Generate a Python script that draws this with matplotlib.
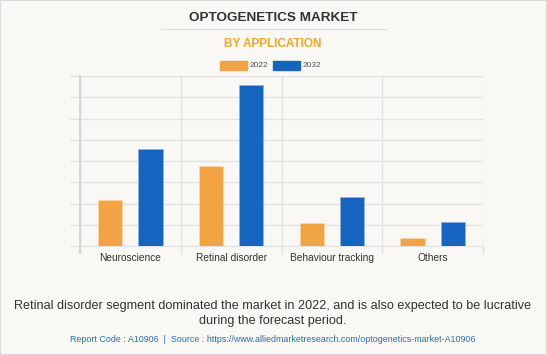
import numpy as np
import matplotlib.pyplot as plt
from matplotlib.patches import Rectangle

plt.rcParams["font.family"] = ["Liberation Sans", "DejaVu Sans"]

# Data (in gridline units)
categories = ["Neuroscience", "Retinal disorder", "Behaviour tracking", "Others"]
series_names = ["2022", "2032"]
values_2022 = [2.19, 3.75, 1.08, 0.39]
values_2032 = [4.56, 7.60, 2.32, 1.14]

ORANGE = "#f2a444"
BLUE = "#1565c0"
BG = "#f9f8f4"
GRID = "#e2e2e0"

fig = plt.figure(figsize=(5.47, 3.55), dpi=100)
fig.patch.set_facecolor(BG)
fig.patches.append(Rectangle((0, 0), 1, 1, transform=fig.transFigure,
                             fill=False, edgecolor="#d8d8d8", linewidth=1.5))

ax = fig.add_axes([80 / 547, 1 - 246.3 / 355, 403 / 547, 170.3 / 355])
ax.set_facecolor(BG)

x = np.arange(len(categories))
w = 0.24
ax.bar(x - 0.2, values_2022, w, color=ORANGE, edgecolor="#f8d7a8", linewidth=0.6, zorder=3)
ax.bar(x + 0.2, values_2032, w, color=BLUE, edgecolor="#8fb3e3", linewidth=0.6, zorder=3)

ax.set_xlim(-0.5, 3.5)
ax.set_ylim(0, 8)
ax.set_yticks(np.arange(0, 9, 1))
ax.set_yticklabels([])
ax.tick_params(axis="y", length=7, color=GRID, width=1)
ax.grid(axis="y", color=GRID, linewidth=1, zorder=0)

# category separators
ax.set_xticks(x)
ax.set_xticklabels(categories, fontsize=7.3, color="#333333")
ax.tick_params(axis="x", length=0, pad=5)
ax.set_xticks(np.arange(-0.5, 4, 1), minor=True)
ax.tick_params(axis="x", which="minor", length=6, color=GRID, width=1)
ax.grid(axis="x", which="minor", color=GRID, linewidth=1, zorder=0)

for side in ["top", "right"]:
    ax.spines[side].set_visible(False)
ax.spines["bottom"].set_color(GRID)
ax.spines["left"].set_color("#d0d0d0")
ax.spines["left"].set_linewidth(1.2)
ax.spines["left"].set_bounds(-0.3, 8)

# Titles
fig.text(273 / 547, 1 - 18 / 355, "OPTOGENETICS MARKET", ha="center", va="center",
         fontsize=9.7, fontweight="bold", color="#333333")
fig.add_artist(plt.Line2D([161 / 547, 386 / 547], [1 - 28.5 / 355] * 2,
                          color="#dddddd", linewidth=0.8, transform=fig.transFigure))
fig.text(273 / 547, 1 - 44 / 355, "BY APPLICATION", ha="center", va="center",
         fontsize=8.5, fontweight="bold", color="#f5a623")

# Legend
legend_items = [(220, ORANGE, series_names[0]), (273, BLUE, series_names[1])]
for lx, col, lab in legend_items:
    fig.patches.append(Rectangle((lx / 547, 1 - 70 / 355), 27 / 547, 9 / 355,
                                 transform=fig.transFigure, color=col))
    fig.text((lx + 30) / 547, 1 - 65.5 / 355, lab, ha="left", va="center",
             fontsize=6, color="#555555")

# Caption
fig.text(273 / 547, 1 - 306 / 355,
         "Retinal disorder segment dominated the market in 2022, and is also expected to be lucrative",
         ha="center", va="center", fontsize=9.1, color="#333333")
fig.text(273 / 547, 1 - 321 / 355, "during the forecast period.",
         ha="center", va="center", fontsize=9.1, color="#333333")
fig.text(273 / 547, 1 - 340 / 355,
         "Report Code : A10906  |  Source : https://www.alliedmarketresearch.com/optogenetics-market-A10906",
         ha="center", va="center", fontsize=6.4, color="#2a6db5")

fig.savefig("out.png", dpi=100, facecolor=BG)
